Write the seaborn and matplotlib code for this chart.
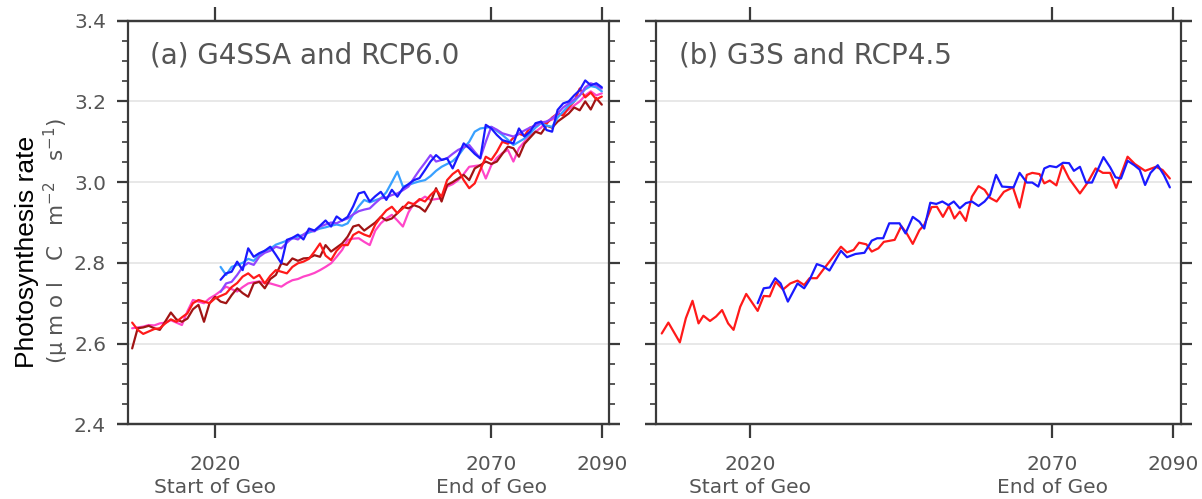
import numpy as np
import pandas as pd
import matplotlib
matplotlib.use("Agg")
import matplotlib.pyplot as plt
import seaborn as sns

sns.set_theme(style="white")
plt.rcParams["font.family"] = ["DejaVu Sans"]

# ---- data -------------------------------------------------------------
# (a) RCP6.0 ensemble members, annual 2005-2090
rcp60_years = list(range(2005, 2091))
rcp60_red_vals = [
    2.652, 2.634, 2.624, 2.630, 2.636, 2.638, 2.650, 2.660, 2.654, 2.665,
    2.675, 2.700, 2.708, 2.704, 2.700, 2.712, 2.718, 2.724, 2.740, 2.750,
    2.766, 2.774, 2.762, 2.770, 2.749, 2.768, 2.782, 2.778, 2.774, 2.790,
    2.799, 2.803, 2.810, 2.828, 2.848, 2.818, 2.807, 2.830, 2.844, 2.844,
    2.869, 2.877, 2.870, 2.865, 2.895, 2.914, 2.930, 2.939, 2.923, 2.935,
    2.950, 2.945, 2.958, 2.952, 2.968, 2.981, 2.964, 3.005, 3.020, 3.030,
    3.005, 2.985, 2.997, 3.030, 3.063, 3.055, 3.075, 3.100, 3.095, 3.110,
    3.120, 3.115, 3.135, 3.140, 3.150, 3.145, 3.160, 3.170, 3.165, 3.185,
    3.200, 3.232, 3.210, 3.222, 3.205, 3.212]
rcp60_dark_vals = [
    2.588, 2.638, 2.640, 2.644, 2.638, 2.634, 2.655, 2.677, 2.660, 2.654,
    2.662, 2.685, 2.696, 2.654, 2.700, 2.716, 2.704, 2.700, 2.720, 2.737,
    2.725, 2.716, 2.749, 2.753, 2.737, 2.760, 2.770, 2.799, 2.795, 2.811,
    2.805, 2.811, 2.812, 2.819, 2.815, 2.844, 2.828, 2.838, 2.848, 2.865,
    2.890, 2.894, 2.880, 2.890, 2.900, 2.914, 2.905, 2.910, 2.923, 2.939,
    2.935, 2.943, 2.938, 2.927, 2.950, 2.985, 2.952, 2.993, 3.000, 3.009,
    3.018, 3.005, 3.034, 3.042, 3.051, 3.045, 3.051, 3.070, 3.088, 3.084,
    3.063, 3.095, 3.110, 3.125, 3.120, 3.140, 3.135, 3.150, 3.160, 3.170,
    3.185, 3.178, 3.200, 3.180, 3.208, 3.192]
rcp60_pink_vals = [
    2.638, 2.640, 2.642, 2.646, 2.645, 2.650, 2.652, 2.658, 2.652, 2.646,
    2.680, 2.708, 2.704, 2.700, 2.712, 2.720, 2.730, 2.741, 2.735, 2.729,
    2.740, 2.749, 2.752, 2.754, 2.750, 2.749, 2.745, 2.741, 2.750, 2.757,
    2.760, 2.766, 2.770, 2.775, 2.782, 2.790, 2.799, 2.815, 2.832, 2.857,
    2.860, 2.861, 2.852, 2.844, 2.880, 2.898, 2.910, 2.919, 2.905, 2.890,
    2.925, 2.947, 2.955, 2.964, 2.956, 2.958, 2.960, 2.989, 2.995, 3.005,
    3.020, 3.038, 3.040, 3.042, 3.009, 3.042, 3.060, 3.072, 3.080, 3.051,
    3.084, 3.100, 3.115, 3.125, 3.135, 3.150, 3.155, 3.165, 3.170, 3.180,
    3.190, 3.200, 3.215, 3.225, 3.215, 3.220]

# (a) G4SSA ensemble members, annual 2021-2090
g4_years = list(range(2021, 2091))
g4_blue_vals = [
    2.758, 2.774, 2.778, 2.803, 2.782, 2.836, 2.815, 2.824, 2.830, 2.840,
    2.820, 2.799, 2.857, 2.862, 2.870, 2.858, 2.885, 2.880, 2.892, 2.905,
    2.890, 2.915, 2.905, 2.914, 2.940, 2.972, 2.976, 2.952, 2.965, 2.976,
    2.956, 2.981, 2.964, 2.985, 2.995, 3.005, 3.010, 3.030, 3.051, 3.067,
    3.055, 3.059, 3.034, 3.065, 3.096, 3.084, 3.070, 3.059, 3.142, 3.133,
    3.117, 3.104, 3.100, 3.096, 3.133, 3.113, 3.125, 3.146, 3.150, 3.129,
    3.125, 3.179, 3.195, 3.200, 3.215, 3.228, 3.252, 3.240, 3.245, 3.235]
g4_sky_vals = [
    2.790, 2.770, 2.790, 2.795, 2.800, 2.810, 2.805, 2.820, 2.830, 2.835,
    2.845, 2.850, 2.855, 2.860, 2.865, 2.870, 2.875, 2.880, 2.885, 2.888,
    2.892, 2.895, 2.892, 2.898, 2.920, 2.940, 2.956, 2.950, 2.955, 2.960,
    2.975, 3.000, 3.026, 2.989, 2.993, 2.998, 3.002, 3.005, 3.015, 3.028,
    3.038, 3.045, 3.052, 3.065, 3.084, 3.100, 3.125, 3.133, 3.135, 3.137,
    3.127, 3.117, 3.105, 3.092, 3.100, 3.108, 3.120, 3.135, 3.146, 3.140,
    3.137, 3.160, 3.175, 3.190, 3.200, 3.215, 3.230, 3.238, 3.235, 3.225]
g4_violet_vals = [
    2.728, 2.749, 2.753, 2.770, 2.790, 2.800, 2.795, 2.815, 2.825, 2.830,
    2.840, 2.836, 2.850, 2.862, 2.858, 2.870, 2.880, 2.878, 2.890, 2.895,
    2.900, 2.898, 2.905, 2.910, 2.920, 2.928, 2.932, 2.935, 2.948, 2.960,
    2.962, 2.968, 2.972, 2.980, 2.989, 3.010, 3.030, 3.048, 3.067, 3.051,
    3.055, 3.059, 3.070, 3.080, 3.086, 3.092, 3.075, 3.059, 3.100, 3.137,
    3.130, 3.121, 3.117, 3.113, 3.120, 3.128, 3.135, 3.140, 3.148, 3.150,
    3.158, 3.170, 3.185, 3.195, 3.205, 3.215, 3.235, 3.245, 3.240, 3.232]

# (b) RCP4.5 and G3S
rcp45_years = [2005.3, 2006.4, 2008.3, 2009.3, 2010.4, 2011.4, 2012.2, 2013.3, 2014.3, 2015.3, 2016.3,
               2017.2, 2018.3, 2019.3, 2020.3, 2021.2, 2022.2, 2023.2, 2024.2, 2025.4, 2026.6, 2027.8,
               2028.9, 2029.8, 2031.0, 2032.1, 2033.3, 2035.0, 2036.0, 2037.1, 2038.0, 2039.2, 2040.1,
               2041.2, 2042.1, 2043.9, 2045.0, 2045.9, 2046.9, 2048.0, 2048.8, 2050.0, 2050.9, 2051.9,
               2052.9, 2053.8, 2054.7, 2055.7, 2056.7, 2057.8, 2058.8, 2059.7, 2060.8, 2062.0, 2063.5,
               2064.6, 2065.8, 2066.7, 2067.9, 2068.7, 2069.6, 2070.7, 2071.7, 2072.8, 2074.6, 2075.8,
               2077.2, 2078.4, 2079.6, 2080.6, 2082.5, 2083.7, 2085.4, 2087.2, 2088.3, 2089.5]
rcp45_vals = [2.625, 2.652, 2.603, 2.663, 2.706, 2.650, 2.669, 2.656, 2.667, 2.683, 2.650, 2.634, 2.691,
              2.723, 2.701, 2.681, 2.718, 2.717, 2.753, 2.734, 2.749, 2.756, 2.745, 2.762, 2.762, 2.784,
              2.807, 2.840, 2.826, 2.832, 2.850, 2.846, 2.828, 2.836, 2.852, 2.857, 2.891, 2.873, 2.847,
              2.881, 2.894, 2.938, 2.939, 2.914, 2.941, 2.910, 2.927, 2.904, 2.964, 2.990, 2.981, 2.961,
              2.952, 2.976, 2.987, 2.937, 3.018, 3.023, 3.020, 2.997, 3.004, 2.992, 3.042, 3.009, 2.972,
              2.997, 3.034, 3.023, 3.023, 2.986, 3.063, 3.045, 3.028, 3.038, 3.030, 3.009]

g3s_years = [2021.2, 2022.2, 2023.2, 2024.1, 2025.0, 2026.2, 2027.8, 2028.9, 2029.8, 2031.0, 2032.1,
             2033.1, 2035.0, 2036.0, 2037.4, 2038.9, 2040.1, 2041.0, 2042.0, 2043.0, 2044.7, 2045.7,
             2046.9, 2048.0, 2048.8, 2049.8, 2050.8, 2051.8, 2052.8, 2053.7, 2054.7, 2055.7, 2056.7,
             2057.8, 2058.8, 2059.7, 2060.7, 2061.7, 2063.6, 2064.6, 2065.8, 2066.7, 2067.7, 2068.7,
             2069.6, 2070.7, 2071.8, 2072.8, 2073.6, 2074.6, 2075.6, 2076.6, 2078.5, 2079.6, 2080.5,
             2081.4, 2082.5, 2083.6, 2084.5, 2085.4, 2086.3, 2087.5, 2088.5, 2089.5]
g3s_vals = [2.700, 2.737, 2.739, 2.762, 2.749, 2.704, 2.749, 2.737, 2.758, 2.797, 2.791, 2.781, 2.830,
            2.814, 2.822, 2.825, 2.855, 2.861, 2.861, 2.898, 2.898, 2.873, 2.914, 2.902, 2.885, 2.949,
            2.946, 2.952, 2.943, 2.952, 2.935, 2.948, 2.952, 2.941, 2.952, 2.968, 3.018, 2.989, 2.987,
            3.023, 2.999, 2.999, 2.989, 3.034, 3.040, 3.037, 3.048, 3.047, 3.028, 3.038, 2.999, 2.999,
            3.062, 3.037, 3.012, 3.009, 3.053, 3.042, 3.031, 2.993, 3.023, 3.042, 3.018, 2.987]

panel_titles = ["(a) G4SSA and RCP6.0", "(b) G3S and RCP4.5"]
x_ticks = [2020, 2070, 2090]
x_tick_labels = ["2020\nStart of Geo", "2070\nEnd of Geo", "2090"]
y_ticks = [2.4, 2.6, 2.8, 3.0, 3.2, 3.4]

left_series = [
    (rcp60_years, rcp60_pink_vals, "#ff45c8"),
    (rcp60_years, rcp60_dark_vals, "#a01414"),
    (rcp60_years, rcp60_red_vals, "#ff1a1a"),
    (g4_years, g4_sky_vals, "#38a0ff"),
    (g4_years, g4_violet_vals, "#9045ff"),
    (g4_years, g4_blue_vals, "#1a1aff"),
]
right_series = [
    (rcp45_years, rcp45_vals, "#ff1a1a"),
    (g3s_years, g3s_vals, "#1a1aff"),
]

# ---- figure -----------------------------------------------------------
W, H = 1202, 499
fig = plt.figure(figsize=(W / 100, H / 100), dpi=100)
ax_a = fig.add_axes([128.3 / W, 1 - 424.3 / H, 480.7 / W, 403.6 / H])
ax_b = fig.add_axes([655.7 / W, 1 - 424.3 / H, 525.0 / W, 403.6 / H])

axis_col = "#3a3a3a"
text_col = "#555555"
tick_len = 8.0  # points


def style_axes(ax, show_ylabels):
    ax.set_xlim(2004.3, 2091.3)
    ax.set_ylim(2.4, 3.4)
    for y in y_ticks[1:-1]:
        ax.axhline(y, color="#e4e4e4", lw=1.2, zorder=0)
    for sp in ax.spines.values():
        sp.set_color(axis_col)
        sp.set_linewidth(1.6)
    ax.set_xticks(x_ticks)
    ax.set_xticklabels(x_tick_labels, fontsize=14.5, color=text_col, linespacing=1.25)
    ax.set_yticks(y_ticks)
    ax.set_yticks(np.arange(2.4, 3.401, 0.05), minor=True)
    ax.tick_params(axis="x", which="major", direction="out", length=tick_len + 2, width=1.6,
                   color=axis_col, top=True, bottom=True, pad=12)
    ax.tick_params(axis="y", which="major", direction="out", length=tick_len, width=1.6,
                   color=axis_col, left=True, right=True, labelsize=14.5, labelcolor=text_col, pad=8)
    ax.tick_params(axis="y", which="minor", direction="out", length=4.5, width=1.2,
                   color=axis_col, left=True, right=True)
    ax.tick_params(axis="x", which="minor", bottom=False, top=False)
    if show_ylabels:
        ax.set_yticklabels([f"{v:.1f}" for v in y_ticks])
    else:
        ax.set_yticklabels([])
    # horizontal frame lines run a tick length past the box on both sides
    ext = tick_len / 72 * 100 / (ax.get_position().width * W)
    for yy in (0, 1):
        ax.plot([-ext, 1 + ext], [yy, yy], transform=ax.transAxes, color=axis_col,
                lw=1.6, clip_on=False, solid_capstyle="butt", zorder=5)
    ax.set_xlabel("")
    ax.set_ylabel("")


for ax, series, title in ((ax_a, left_series, panel_titles[0]), (ax_b, right_series, panel_titles[1])):
    for yrs, vals, col in series:
        sns.lineplot(x=yrs, y=vals, color=col, lw=1.6, ax=ax, estimator=None, sort=False)
    ax.text(0.045, 0.915, title, transform=ax.transAxes, fontsize=20, color=text_col,
            ha="left", va="center")

style_axes(ax_a, True)
style_axes(ax_b, False)

fig.text(27 / W, 1 - 252 / H, "Photosynthesis rate", rotation=90, ha="center", va="center",
         fontsize=19, color="black", family=["Liberation Sans", "DejaVu Sans"])
fig.text(56 / W, 1 - 241 / H, "(μ m o l   C   m$^{-2}$   s$^{-1}$)", rotation=90, ha="center",
         va="center", fontsize=15.5, color=text_col)

fig.savefig("out.png", dpi=100)
